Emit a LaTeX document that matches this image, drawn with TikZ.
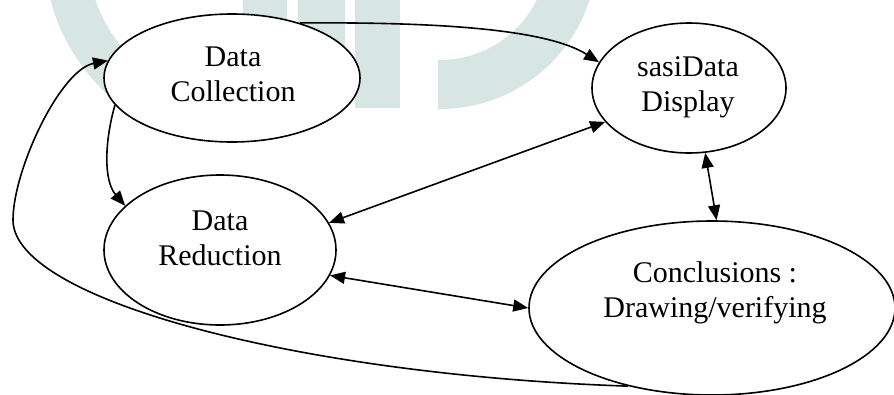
\documentclass[tikz,border=0pt]{standalone}
\usepackage{fontspec}
\setmainfont{Liberation Serif}
\usetikzlibrary{arrows.meta, shapes.geometric}
\definecolor{wmTeal}{RGB}{215,230,226}

\begin{document}
\begin{tikzpicture}[x=1pt, y=-1pt,
    st/.style={draw, ellipse, fill=white, line width=1.6pt, inner sep=0pt},
    lbl/.style={align=center, font=\fontsize{30}{35}\selectfont, inner sep=0pt},
    ar/.style={line width=1.6pt, -{Triangle[length=15pt, width=12pt]}},
    dar/.style={line width=1.6pt, {Triangle[length=15pt, width=12pt]}-{Triangle[length=15pt, width=12pt]}}]
  \useasboundingbox (0,0) rectangle (894,394);
  % faint logo behind the diagram
  \fill[wmTeal] ([shift={(240,-50)}]180:196) arc[start angle=180, end angle=125, radius=196]
    -- ([shift={(240,-50)}]125:153) arc[start angle=125, end angle=180, radius=153] -- cycle;
  \foreach \xa/\xb in {243/287, 298/345, 355/400}
    \fill[wmTeal] (\xa,-2) rectangle (\xb,108);
  \fill[wmTeal] (438,60) -- (440,60) arc[start angle=90, end angle=0, radius=108]
    -- (597,-48) arc[start angle=0, end angle=90, radius=157] -- (438,109) -- cycle;

  \node[st, minimum width=256pt, minimum height=128pt] (coll) at (232,78) {};
  \node[st, minimum width=194pt, minimum height=130pt] (disp) at (689,88) {};
  \node[st, minimum width=232pt, minimum height=150pt] (red) at (220,250) {};
  \node[st, minimum width=366pt, minimum height=174pt] (conc) at (712,308) {};

  \node[lbl] (collT) at ([xshift=1pt, yshift=3.75pt]coll.center) {Data\\Collection};
  \node[lbl] (dispT) at ([xshift=-1pt, yshift=0.5pt]disp.center) {sasiData\\Display};
  \node[lbl] (redT) at ([yshift=11.75pt]red.center) {Data\\Reduction};
  \node[lbl] (concT) at ([xshift=3pt, yshift=15.5pt]conc.center) {Conclusions :\\Drawing/verifying};

  \draw[ar] (coll.39) .. controls (430,22) and (545,28) .. (disp.164.6);
  \draw[ar] (coll.-167) .. controls (105,140) and (103,180) .. (red.155);
  \draw[dar] (red.14.5) -- (disp.-158.4);
  \draw[dar] (disp.-76.6) -- (conc.87.4);
  \draw[dar] (red.-13.4) -- (conc.180);
  \draw[ar] (conc.-137.7) .. controls (300,375) and (13,300) .. (13,220)
    .. controls (13,170) and (60,70) .. (coll.172.8);
\end{tikzpicture}
\end{document}
